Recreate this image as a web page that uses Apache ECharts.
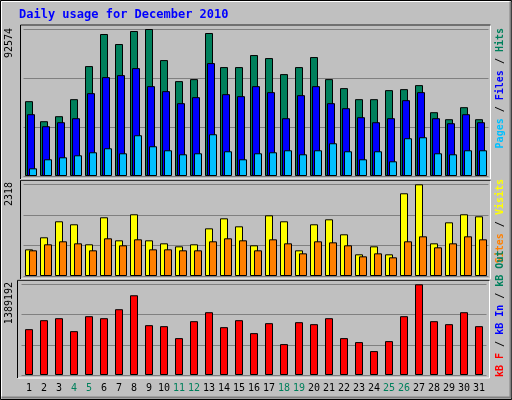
<!DOCTYPE html>
<html><head><meta charset="utf-8">
<script src="https://cdn.jsdelivr.net/npm/echarts@6/dist/echarts.min.js"></script>
<style>html,body{margin:0;padding:0;background:#c0c0c0}#c{width:512px;height:400px}</style>
</head><body><div id="c"></div>
<script>
const days = ['1','2','3','4','5','6','7','8','9','10','11','12','13','14','15','16','17','18','19','20','21','22','23','24','25','26','27','28','29','30','31'];
const weekend = ['4','5','11','12','18','19','25','26'];
const hits = [47130,34506,37662,48392,69222,89420,83108,91314,92574,73009,59754,61016,90051,68590,68590,76165,74271,64172,68590,74902,61016,55335,48392,48392,54073,54704,57229,40186,35768,43342,35768];
const files = [38924,31350,33874,36399,52179,62278,63541,67959,56598,53442,45867,49654,71115,51548,50286,56598,52810,36399,50917,56598,45867,42711,37030,33874,36399,47761,52810,36399,33243,38924,33874];
const pages = [4839,10520,11782,13045,14938,17463,14307,25669,18726,16201,13676,14307,26300,15570,10520,14307,14938,16201,13676,16201,20619,15570,10520,15570,9258,23775,24406,14307,13676,16201,16201];
const visits = [674,978,1383,1307,801,1484,902,1560,902,826,750,801,1205,1458,1256,776,1534,1383,649,1307,1433,1054,548,750,548,2091,2318,826,1357,1560,1509];
const sites = [649,801,877,826,649,953,776,927,674,674,649,649,877,953,902,649,927,826,573,877,851,776,497,573,472,877,1003,725,826,1003,927];
const kbytes = [702227,839619,870151,671695,900682,870151,1007543,1221264,763290,748025,564835,824353,961745,732760,839619,641164,793822,473240,809087,778556,870151,564835,503771,366379,519037,900682,1389192,824353,778556,961745,748025];
const maxLabels = ['92574','2318','1389192'];
const title = 'Daily usage for December 2010';

const MONO = '"DejaVu Sans Mono", monospace';
const chart = echarts.init(document.getElementById('c'), null, {renderer:'canvas'});
const grids = [
  {left:23.5, width:465, top:29, height:147},
  {left:23.5, width:465, top:184.3, height:91.7},
  {left:21.5, width:465, top:284.3, height:90.7}
];
const maxes = [+maxLabels[0], +maxLabels[1], +maxLabels[2]];
function xa(i, show){
  return {type:'category', gridIndex:i, data:days, boundaryGap:true,
    axisLine:{show:false}, axisTick:{show:false},
    axisLabel:{show:show, margin:8, fontFamily:MONO, fontSize:10, interval:0,
      formatter:v=> weekend.includes(v)? '{w|'+v+'}' : '{n|'+v+'}',
      rich:{w:{color:'#00805c',fontFamily:MONO,fontSize:10},n:{color:'#000',fontFamily:MONO,fontSize:10}}}};
}
function ya(i){
  return {type:'value', gridIndex:i, min:0, max:maxes[i], interval:maxes[i]/3,
    axisLabel:{show:false}, axisLine:{show:false}, axisTick:{show:false},
    splitLine:{show:true, lineStyle:{color:'#808080', width:1}}};
}
const bs = c => ({color:c, borderColor:'#000', borderWidth:1});
function frame(g){
  const x=g.left-3, y=g.top-4, w=g.width+5, h=g.height+7;
  return [
    {type:'rect', shape:{x:x,y:y,width:w,height:h}, style:{fill:'none', stroke:'#fff', lineWidth:1}, z:-1},
    {type:'polyline', shape:{points:[[x,y+h],[x,y],[x+w,y]]}, style:{stroke:'#000', fill:'none', lineWidth:1}, z:-1}
  ];
}
const rot = Math.PI/2;
chart.setOption({
  animation:false,
  backgroundColor:'#c0c0c0',
  grid:grids,
  xAxis:[xa(0,false), xa(1,false), xa(2,true)],
  yAxis:[ya(0), ya(1), ya(2)],
  series:[
    {type:'bar', xAxisIndex:0, yAxisIndex:0, data:hits, barWidth:8, barGap:'-75%', itemStyle:bs('#00805c')},
    {type:'bar', xAxisIndex:0, yAxisIndex:0, data:files, barWidth:8, barGap:'-75%', itemStyle:bs('#0000ff')},
    {type:'bar', xAxisIndex:0, yAxisIndex:0, data:pages, barWidth:8, barGap:'-75%', itemStyle:bs('#00c0ff')},
    {type:'bar', xAxisIndex:1, yAxisIndex:1, data:visits, barWidth:8, barGap:'-50%', itemStyle:bs('#ffff00')},
    {type:'bar', xAxisIndex:1, yAxisIndex:1, data:sites, barWidth:8, barGap:'-50%', itemStyle:bs('#ff8000')},
    {type:'bar', xAxisIndex:2, yAxisIndex:2, data:kbytes, barWidth:8, itemStyle:bs('#ff0000')}
  ],
  graphic:[
    {type:'rect', shape:{x:0.5,y:0.5,width:511,height:399}, style:{fill:'none', stroke:'#000', lineWidth:1}, z:-2},
    {type:'polyline', shape:{points:[[1.5,398.5],[1.5,1.5],[510.5,1.5]]}, style:{stroke:'#fff', fill:'none'}, z:-2},
    {type:'polyline', shape:{points:[[1.5,397.5],[510.5,397.5],[510.5,1.5]]}, style:{stroke:'#808080', fill:'none', lineWidth:2}, z:-2},
    ...frame(grids[0]), ...frame(grids[1]), ...frame({left:20.5,width:467,top:284.3,height:90.7}),
    {type:'text', x:19, y:9, style:{text:title, fill:'#0000ff', font:'bold 12px '+MONO}},
    {type:'text', x:9, y:28, rotation:rot, style:{text:maxLabels[0], fill:'#000', font:'10px '+MONO, align:'right', verticalAlign:'middle'}},
    {type:'text', x:9, y:182, rotation:rot, style:{text:maxLabels[1], fill:'#000', font:'10px '+MONO, align:'right', verticalAlign:'middle'}},
    {type:'text', x:9, y:282, rotation:rot, style:{text:maxLabels[2], fill:'#000', font:'10px '+MONO, align:'right', verticalAlign:'middle'}},
    {type:'text', x:500, y:28, rotation:rot, style:{align:'right', verticalAlign:'middle',
      rich:{p:{fill:'#00c0ff',font:'bold 10px '+MONO}, f:{fill:'#0000ff',font:'bold 10px '+MONO}, h:{fill:'#00805c',font:'bold 10px '+MONO}, s:{fill:'#000',font:'bold 10px '+MONO}},
      text:'{p|Pages}{s| / }{f|Files}{s| / }{h|Hits}'}},
    {type:'text', x:500, y:179, rotation:rot, style:{align:'right', verticalAlign:'middle',
      rich:{o:{fill:'#ff8000',font:'bold 10px '+MONO}, v:{fill:'#ffff00',font:'bold 10px '+MONO}, s:{fill:'#000',font:'bold 10px '+MONO}},
      text:'{o|Sites}{s| / }{v|Visits}'}},
    {type:'text', x:500, y:377, rotation:rot, style:{align:'left', verticalAlign:'middle',
      rich:{r:{fill:'#ff0000',font:'bold 10px '+MONO}, b:{fill:'#0000ff',font:'bold 10px '+MONO}, g:{fill:'#00805c',font:'bold 10px '+MONO}, s:{fill:'#000',font:'bold 10px '+MONO}},
      text:'{r|kB F}{s| / }{b|kB In}{s| / }{g|kB Out}'}}
  ]
});
</script></body></html>
